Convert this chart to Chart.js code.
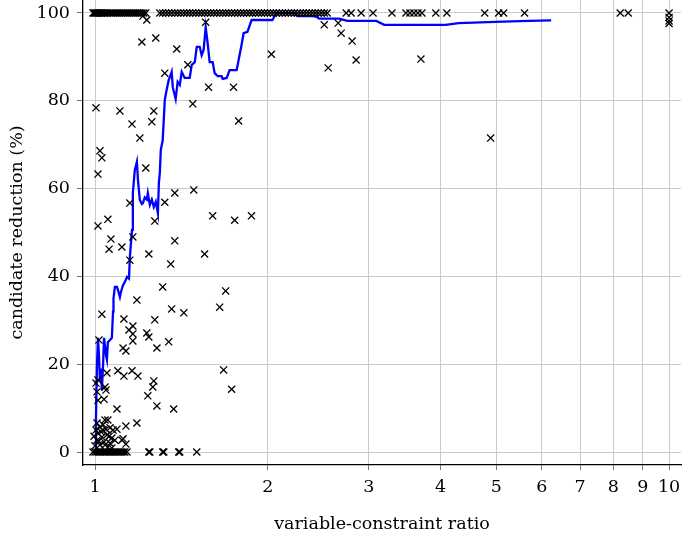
<!DOCTYPE html>
<html>
<head>
<meta charset="utf-8">
<script src="https://cdn.jsdelivr.net/npm/chart.js@4/dist/chart.umd.min.js"></script>
<style>
html,body{margin:0;padding:0;background:#fff;}
#wrap{width:685px;height:535px;}
</style>
</head>
<body>
<div id="wrap"><canvas id="c" width="685" height="535"></canvas></div>
<script>
// ---- data ----
const xTicks = [1, 2, 3, 4, 5, 6, 7, 8, 9, 10];
const yTicks = [0, 20, 40, 60, 80, 100];

// instances with 100 % candidate reduction (x = variable-constraint ratio)
const fullX = [0.992, 0.996, 1.0, 1.004, 1.008, 1.012, 1.016, 1.020, 1.026, 1.032, 1.038, 1.045, 1.052,
  1.062, 1.070, 1.079, 1.088, 1.096, 1.105, 1.114, 1.123, 1.132, 1.141, 1.150, 1.160, 1.169, 1.178, 1.188, 1.197, 1.207, 1.216, 1.226,
  1.297, 1.312, 1.328, 1.344, 1.360, 1.377, 1.393, 1.410, 1.428, 1.445, 1.462, 1.480, 1.498, 1.516, 1.534, 1.552, 1.571, 1.590, 1.610,
  1.629, 1.649, 1.669, 1.689, 1.709, 1.730, 1.751, 1.772, 1.793, 1.815, 1.837, 1.859, 1.880, 1.904, 1.927, 1.950, 1.973, 1.997, 2.021,
  2.045, 2.070, 2.095, 2.120, 2.146, 2.172, 2.198, 2.225, 2.252, 2.279, 2.306, 2.334, 2.362, 2.390, 2.419, 2.448, 2.478, 2.508, 2.538,
  2.739, 2.794, 2.908, 3.050, 3.291, 3.481, 3.537, 3.594, 3.652, 3.711, 3.924, 4.101, 4.773, 5.048, 5.150, 5.601, 8.221, 8.488, 10.0];

// instances with 0 % candidate reduction
const zeroX = [0.992, 1.0, 1.008, 1.016, 1.024, 1.033, 1.041, 1.049, 1.058, 1.066, 1.075, 1.083, 1.092, 1.101, 1.110, 1.119,
  1.127, 1.137, 1.241, 1.246, 1.312, 1.318, 1.399, 1.405, 1.504];

// remaining instances
const otherX = [1.004, 1.020, 1.028, 1.012, 1.105, 1.160, 1.197, 1.212, 1.231, 1.207, 1.276, 1.266, 1.256, 1.323, 1.388, 1.451,
  1.480, 1.559, 1.577, 1.743, 1.779, 2.029, 2.508, 2.652, 2.684, 2.548, 2.805, 2.850, 3.696, 4.889, 10.0, 10.0, 10.0,
  1.226, 1.150, 1.377, 1.486, 1.323, 1.271, 1.012, 1.053, 1.603, 1.751, 1.873, 1.164, 1.066, 1.058, 1.114, 1.377, 1.241,
  1.552, 1.150, 1.355, 1.312, 1.689, 1.183, 1.360, 1.649,
  1.028, 1.428, 1.123, 1.271, 1.164, 1.146, 1.164, 1.164, 1.016, 1.231, 1.241, 1.344, 1.119, 1.132, 1.282, 1.675, 1.730,
  1.096, 1.160, 1.123, 1.188, 1.266, 1.261, 1.236, 1.282, 1.371, 1.092, 1.183, 1.132, 1.092, 1.119, 1.132, 1.049, 1.045,
  1.012, 1.008, 1.012, 1.037, 1.041, 1.004,
  1.008, 1.041, 1.053, 1.020, 1.033, 1.062, 1.075, 1.012, 1.028, 1.049, 1.070, 1.083, 1.114, 1.008, 1.020, 1.041, 1.053,
  1.070, 1.000, 1.004, 0.996, 1.016, 1.037, 1.062, 1.024, 1.045, 1.058, 1.033];
const otherY = [78.4, 68.6, 67.0, 63.3, 77.7, 74.7, 71.5, 99.3, 98.4, 93.4, 94.3, 77.7, 75.2, 86.3, 91.8, 88.2,
  79.3, 97.9, 83.1, 83.1, 75.4, 90.6, 97.3, 97.7, 95.4, 87.5, 93.6, 89.3, 89.5, 71.5, 99.0, 98.2, 97.6,
  64.7, 56.7, 59.0, 59.7, 56.9, 52.6, 51.5, 53.0, 53.8, 52.8, 53.8, 49.0, 48.5, 46.2, 46.7, 48.1, 45.1,
  45.1, 43.7, 42.8, 37.6, 36.7, 34.6, 32.6, 33.0,
  31.4, 31.7, 30.3, 30.1, 28.7, 27.8, 26.9, 25.3, 25.5, 27.1, 26.2, 25.1, 23.7, 23.0, 23.7, 18.7, 14.3,
  18.5, 18.5, 17.3, 17.3, 16.2, 14.8, 12.8, 10.5, 9.8, 9.8, 6.6, 5.9, 5.2, 3.0, 1.8, 18.0, 14.1,
  16.4, 13.7, 11.8, 12.0, 14.8, 15.7,
  6.6, 7.3, 7.3, 5.7, 5.0, 5.5, 5.0, 4.3, 3.4, 3.9, 3.2, 2.7, 2.7, 2.7, 1.6, 1.6, 1.1,
  0.9, 1.4, 5.0, 3.6, 2.5, 2.3, 2.0, 4.6, 5.2, 3.6, 6.2];

// blue trend line
const trendX = [1.000, 1.004, 1.008, 1.012, 1.016, 1.020, 1.024, 1.028, 1.033, 1.037, 1.041, 1.045, 1.049, 1.053, 1.062, 1.070,
  1.075, 1.077, 1.083, 1.092, 1.096, 1.105, 1.110, 1.119, 1.127, 1.137, 1.146, 1.150, 1.160, 1.164, 1.173, 1.183, 1.188,
  1.197, 1.207, 1.212, 1.221, 1.231, 1.236, 1.246, 1.256, 1.266, 1.276, 1.287, 1.292, 1.297, 1.302, 1.312, 1.323, 1.333,
  1.344, 1.360, 1.366, 1.382, 1.393, 1.405, 1.416, 1.433, 1.462, 1.474, 1.492, 1.504, 1.522, 1.534, 1.546, 1.559, 1.571,
  1.584, 1.603, 1.616, 1.636, 1.662, 1.669, 1.696, 1.716, 1.765, 1.779, 1.800, 1.815, 1.843, 1.874, 2.037, 2.071, 2.225,
  2.252, 2.380, 2.428, 2.457, 2.665, 2.750, 3.09, 3.19, 4.08, 4.30, 4.98, 5.69, 6.23];
const trendY = [0, 8, 20, 26, 22, 16, 19, 14, 20, 26, 24, 22, 21, 25, 25.5, 26,
  32, 35, 37.6, 37.6, 37, 35.3, 36.5, 38, 38.7, 39.9, 39.5, 44.4, 50.6, 59, 64.2, 66.1, 62,
  57.4, 56.5, 56.7, 58, 57.5, 59, 56.3, 57.5, 55.8, 57, 54.4, 61.3, 63.6, 68.8, 71, 80.2, 82.5,
  84.7, 86.6, 83.1, 80.4, 84.3, 83.6, 86.6, 85.2, 85.2, 88.2, 88.8, 92.3, 92.3, 90.4, 91.6, 96.8, 93.2,
  88.8, 88.8, 86.3, 85.6, 85.6, 85, 85.2, 87, 87, 89.3, 92.7, 95.4, 95.7, 98.4, 98.4, 100, 100,
  99.3, 99.3, 99.2, 98.7, 98.7, 98.2, 98.2, 97.3, 97.3, 97.7, 98, 98.2, 98.3];

// ---- build chart ----
const pts = [];
fullX.forEach(x => pts.push({x: x, y: 100}));
zeroX.forEach(x => pts.push({x: x, y: 0}));
otherX.forEach((x, i) => pts.push({x: x, y: otherY[i]}));
const line = trendX.map((x, i) => ({x: x, y: trendY[i]}));

const FONT = {family: "'DejaVu Serif', serif", size: 17.5};

new Chart(document.getElementById('c'), {
  type: 'scatter',
  data: {
    datasets: [
      {
        data: pts,
        pointStyle: 'crossRot',
        pointRadius: 5,
        borderColor: '#000',
        backgroundColor: 'rgba(0,0,0,0)',
        borderWidth: 1.3,
        showLine: false
      },
      {
        data: line,
        showLine: true,
        pointRadius: 0,
        borderColor: '#0000ff',
        borderWidth: 2.3,
        tension: 0,
        fill: false
      }
    ]
  },
  options: {
    responsive: false,
    animation: false,
    devicePixelRatio: 1,
    layout: {autoPadding: false, padding: {top: 0, right: 4, left: 0, bottom: 0}},
    plugins: {legend: {display: false}, tooltip: {enabled: false}},
    scales: {
      x: {
        type: 'logarithmic',
        min: 0.953,
        max: 10.49,
        afterBuildTicks: s => { s.ticks = xTicks.map(v => ({value: v})); },
        afterFit: s => { s.height = 70; s.paddingLeft = 0; s.paddingRight = 0; },
        ticks: {
          callback: v => String(v),
          autoSkip: false, maxRotation: 0, minRotation: 0,
          color: '#000', font: FONT, padding: 7
        },
        grid: {color: '#cbcbcb', lineWidth: 1, drawTicks: true, tickLength: 5, tickColor: '#777'},
        border: {display: true, color: '#000', width: 1.3},
        title: {display: true, text: 'variable-constraint ratio', color: '#000', font: FONT, padding: {top: 0, bottom: 0.5}}
      },
      y: {
        type: 'linear',
        min: -2.96,
        max: 102.96,
        afterBuildTicks: s => { s.ticks = yTicks.map(v => ({value: v})); },
        afterFit: s => { s.width = 83; s.paddingTop = 0; s.paddingBottom = 0; },
        ticks: {color: '#000', font: FONT, padding: 7},
        grid: {color: '#cbcbcb', lineWidth: 1, drawTicks: true, tickLength: 6, tickColor: '#777'},
        border: {display: true, color: '#000', width: 1.3},
        title: {display: true, text: 'candidate reduction (%)', color: '#000', font: FONT, padding: {top: 6.5, bottom: 0}}
      }
    }
  }
});
</script>
</body>
</html>
